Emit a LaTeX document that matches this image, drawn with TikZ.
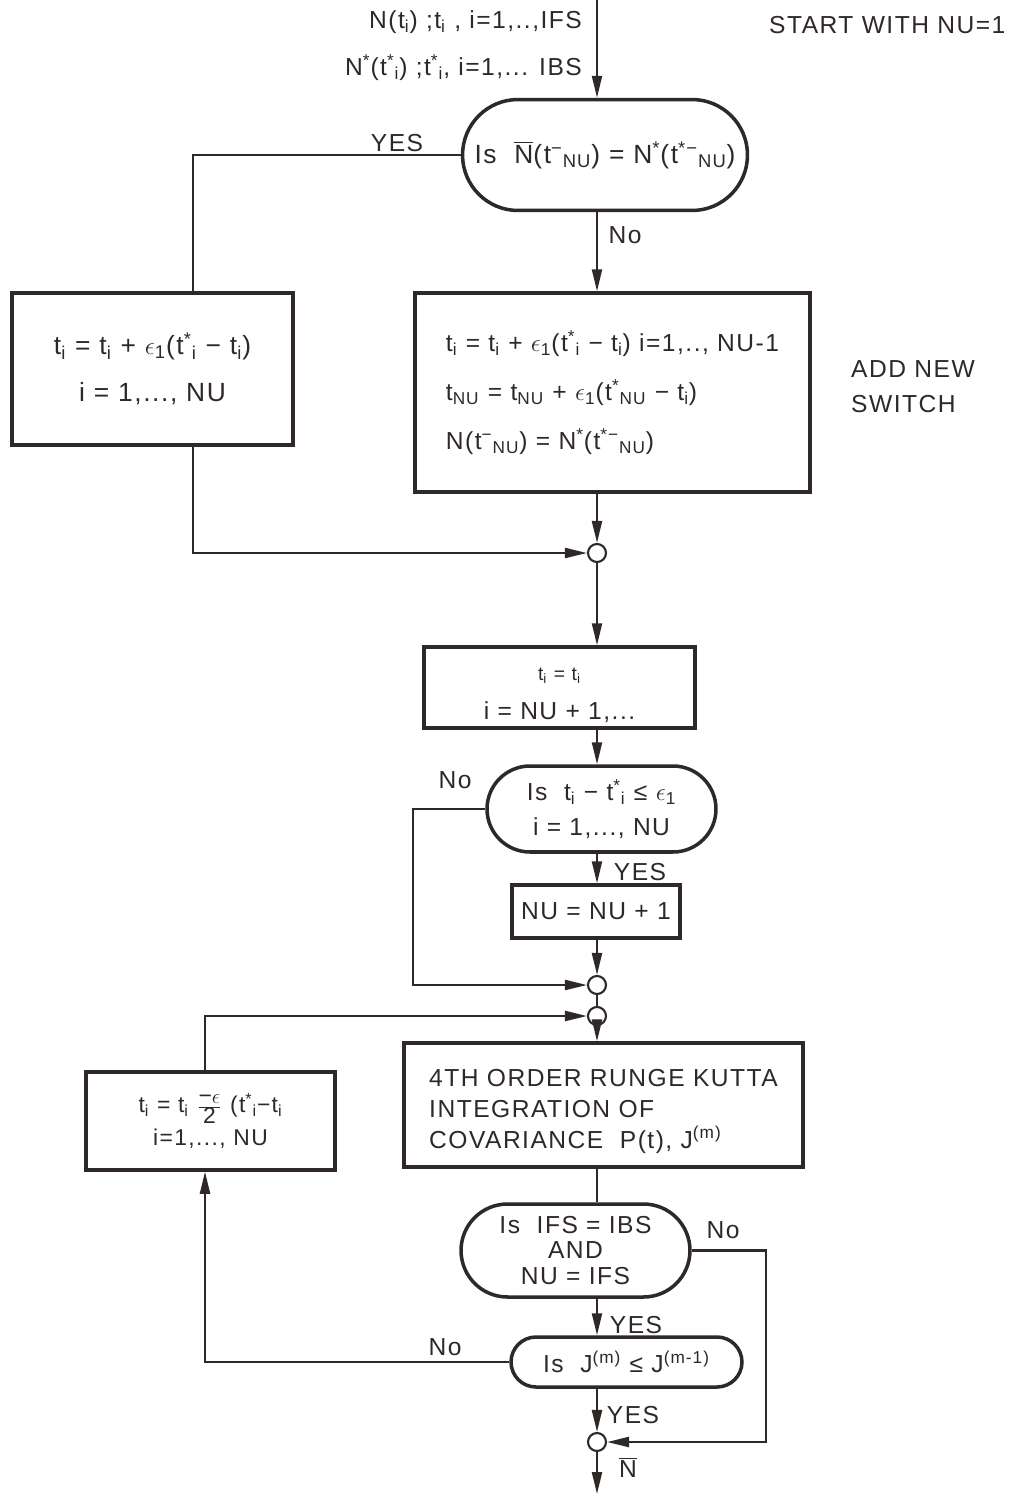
\documentclass[tikz,border=0pt]{standalone}
\usepackage{fontspec}
\setmainfont{Liberation Sans}[LetterSpace=6]
\usetikzlibrary{arrows.meta,shapes.misc}
\definecolor{chartInk}{HTML}{2E2927}
\newcommand{\lo}[1]{\textsubscript{#1}}
\newcommand{\hi}[1]{\textsuperscript{#1}}
\newcommand{\lohi}[2]{\textsuperscript{#2}\textsubscript{#1}}
\newcommand{\Nbar}{$\overline{\hbox{N}}$}
\newcommand{\eps}{$\epsilon$}
\tikzset{
  box/.style={draw=chartInk, line width=2pt, align=center, inner sep=0pt},
  decision/.style={draw=chartInk, rounded rectangle, line width=2pt, align=center, inner sep=0pt},
  joint/.style={draw=chartInk, circle, minimum size=0.36cm, inner sep=0pt, line width=1.2pt, fill=white},
  flow/.style={draw=chartInk, line width=1.3pt, -{Triangle[length=4.4mm,width=2mm]}},
  plain/.style={draw=chartInk, line width=1.3pt}
}
\begin{document}
\begin{tikzpicture}[x=0.02cm, y=-0.02cm, every node/.style={font=\fontsize{14}{20}\selectfont, text=chartInk}]
  \useasboundingbox (0,0) rectangle (1021,1494);
  \fill[white] (0,0) rectangle (1021,1494);
  % inputs and notes
  \node[anchor=east] (inA) at (588,22) {N(t\lo{i}) ;t\lo{i} , i=1,..,IFS};
  \node[anchor=east] (inB) at (588,68) {N\hi{*}(t\lohi{i}{*}) ;t\lohi{i}{*}, i=1,... IBS};
  \node[anchor=west] (start) at (763,25) {START WITH NU=1};
  \node[anchor=west, align=left] (note) at (845,387) {ADD NEW\\SWITCH};
  \coordinate (top) at (597,0);
  \coordinate (lx) at (193,553);
  \coordinate (nx) at (413,985);
  \coordinate (hx) at (205,1016);
  \coordinate (rx) at (766,1442);
  \coordinate (bot) at (597,1494);
  % boxes and tests
  \node[decision, minimum width=5.7cm, minimum height=2.22cm, font=\fontsize{15}{20}\selectfont] (q1) at (605,155)
    {Is\ \ \Nbar(t\lohi{NU}{−}) = N\hi{*}(t\lohi{NU}{*−})};
  \node[box, minimum width=5.62cm, minimum height=3.04cm, font=\fontsize{15}{27}\selectfont] (upd) at (152.5,369)
    {t\lo{i} = t\lo{i} + \eps\lo{1}(t\lohi{i}{*} − t\lo{i})\\ i = 1,..., NU};
  \node[box, minimum width=7.9cm, minimum height=3.98cm, align=left, font=\fontsize{14}{28}\selectfont] (add) at (612.5,392.5)
    {t\lo{i} = t\lo{i} + \eps\lo{1}(t\lohi{i}{*} − t\lo{i}) i=1,.., NU-1\\
     t\lo{NU} = t\lo{NU} + \eps\lo{1}(t\lohi{NU}{*} − t\lo{i})\\
     N(t\lohi{NU}{−}) = N\hi{*}(t\lohi{NU}{*−})};
  \node[box, minimum width=5.42cm, minimum height=1.62cm, font=\fontsize{14}{22}\selectfont] (keep) at (559.5,687.5)
    {{\fontsize{11}{12}\selectfont\rule{0pt}{16pt}t\lo{i} = t\lo{i}}\\ i = NU + 1,...};
  \node[decision, minimum width=4.58cm, minimum height=1.72cm] (q2) at (601.5,809)
    {Is\ \ t\lo{i} − t\lohi{i}{*} ≤ \eps\lo{1}\\ i = 1,..., NU};
  \node[box, minimum width=3.36cm, minimum height=1.06cm] (inc) at (596,911.5) {NU = NU + 1};
  \node[box, minimum width=7.98cm, minimum height=2.48cm, align=left, font=\fontsize{14}{17.5}\selectfont] (rk) at (603.5,1105)
    {\rule{0pt}{17pt}4TH ORDER RUNGE KUTTA\\ INTEGRATION OF\\ COVARIANCE\ \ P(t), J\hi{(m)}};
  \node[box, minimum width=4.98cm, minimum height=1.96cm, font=\fontsize{13}{19}\selectfont] (halve) at (210.5,1121)
    {{\fontsize{13}{12}\selectfont t\lo{i} = t\lo{i} $\frac{\hbox{−\eps}}{\hbox{2}}$ (t\lohi{i}{*}−t\lo{i}}\\ i=1,..., NU};
  \node[decision, minimum width=4.58cm, minimum height=1.86cm, font=\fontsize{14}{14.5}\selectfont] (q3) at (575.5,1250.5)
    {Is\ \ IFS = IBS\\ AND\\ NU = IFS};
  \node[decision, minimum width=4.62cm, minimum height=1cm] (q4) at (626.5,1362)
    {Is\ \ J\hi{(m)} ≤ J\hi{(m-1)}};
  \foreach \n/\y in {c1/553, c2/985, c3/1016, c4/1442}
    \node[joint] (\n) at (597,\y) {};
  % connectors
  \draw[flow] (top) -- (q1.north -| top);
  \draw[plain] (q1.west) -| (upd.north -| lx);
  \draw[flow] (upd.south -| lx) |- (c1.west);
  \draw[flow] (q1.south -| c1) -- (add.north -| c1);
  \draw[flow] (add.south -| c1) -- (c1.north);
  \draw[flow] (c1.south) -- (keep.north -| c1);
  \draw[flow] (keep.south -| c1) -- (q2.north -| c1);
  \draw[flow] (q2.west) -| (nx) -- (c2.west);
  \draw[flow] (q2.south -| c1) -- (inc.north -| c1);
  \draw[flow] (inc.south -| c1) -- (c2.north);
  \draw[plain] (c2.south) -- (c3.north);
  \draw[flow] (halve.north -| hx) |- (c3.west);
  \draw[flow] (c3.south) -- (rk.north -| c3);
  \draw[plain] (rk.south -| c3) -- (q3.north -| c3);
  \draw[flow] (q3.east) -| (rx) -- (c4.east);
  \draw[flow] (q3.south -| c4) -- (q4.north -| c4);
  \draw[flow] (q4.west) -| (halve.south -| hx);
  \draw[flow] (q4.south -| c4) -- (c4.north);
  \draw[flow] (c4.south) -- (bot);
  % branch labels
  \node (yes1) at (397,143) {YES};
  \node (no1) at (625,235) {No};
  \node (no2) at (455,780) {No};
  \node (yes2) at (640,872) {YES};
  \node (no3) at (723,1230) {No};
  \node (yes3) at (636,1325) {YES};
  \node (no4) at (445,1347) {No};
  \node (yes4) at (633,1415) {YES};
  \node (nout) at (628,1467) {\Nbar};
\end{tikzpicture}
\end{document}
